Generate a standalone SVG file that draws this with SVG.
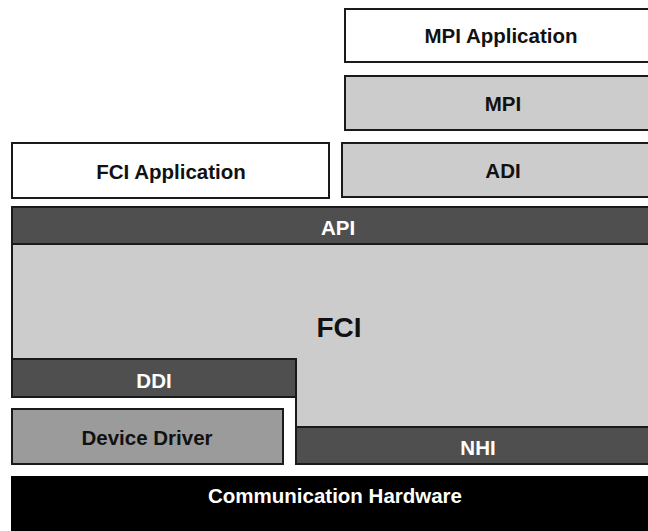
<svg xmlns="http://www.w3.org/2000/svg" width="648" height="531" viewBox="0 0 648 531">
<style>
.box{stroke:#1a1a1a;stroke-width:2}
.white{fill:#ffffff}
.light{fill:#cccccc}
.dark{fill:#4f4f4f}
.mid{fill:#9b9b9b}
.black{fill:#000000}
text{font-family:"Liberation Sans",Arial,sans-serif;font-weight:bold;font-size:20.5px;text-anchor:middle}
.tb{fill:#111111}
.tw{fill:#ffffff}
</style>
<rect width="648" height="531" fill="#ffffff"/>
<g id="mpi-application">
<rect class="box white" x="345" y="9" width="315" height="53"/>
<text class="tb" x="501" y="43">MPI Application</text>
</g>
<g id="mpi">
<rect class="box light" x="345" y="76" width="315" height="54"/>
<text class="tb" x="503" y="111">MPI</text>
</g>
<g id="adi">
<rect class="box light" x="342" y="143" width="318" height="54"/>
<text class="tb" x="503" y="178">ADI</text>
</g>
<g id="fci-application">
<rect class="box white" x="12" y="143" width="317" height="55"/>
<text class="tb" x="171" y="179">FCI Application</text>
</g>
<g id="fci">
<polygon class="box light" points="12,207 660,207 660,464 296,464 296,397 12,397"/>
<text class="tb" x="339" y="337" style="font-size:28px">FCI</text>
</g>
<g id="api">
<rect class="box dark" x="12" y="207" width="648" height="37"/>
<text class="tw" x="338" y="235">API</text>
</g>
<g id="ddi">
<rect class="box dark" x="12" y="359" width="284" height="38"/>
<text class="tw" x="154" y="388">DDI</text>
</g>
<g id="nhi">
<rect class="box dark" x="296" y="427" width="364" height="37"/>
<text class="tw" x="478" y="455">NHI</text>
</g>
<g id="device-driver">
<rect class="box mid" x="12" y="409" width="271" height="55"/>
<text class="tb" x="147" y="445">Device Driver</text>
</g>
<g id="communication-hardware">
<rect class="black" x="11" y="476" width="650" height="60"/>
<text class="tw" x="335" y="503">Communication Hardware</text>
</g>
<g id="connectors"></g>
</svg>
